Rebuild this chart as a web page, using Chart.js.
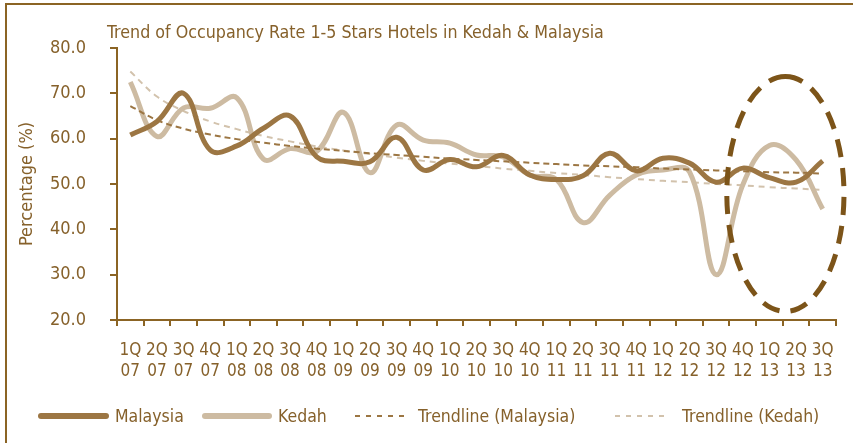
<!DOCTYPE html>
<html>
<head>
<meta charset="utf-8">
<title>Occupancy Rate Kedah & Malaysia</title>
<script src="https://cdn.jsdelivr.net/npm/chart.js@4.4.1/dist/chart.umd.min.js"></script>
<style>
    html, body { margin: 0; padding: 0; background: #fff; }
    #wrap {
        position: relative;
        width: 853px;
        height: 443px;
        overflow: hidden;
        font-family: 'DejaVu Sans Condensed', 'Liberation Sans Narrow', sans-serif;
        color: #86612B;
    }
    #frame {
        position: absolute;
        left: 5px;
        top: 3px;
        width: 900px;
        height: 500px;
        border-left: 2px solid #8B6424;
        border-top: 2px solid #8B6424;
    }
    #chart { position: absolute; left: 0; top: 0; }
    #title {
        position: absolute;
        left: 107px;
        top: 20px;
        font-size: 17.7px;
        line-height: 24px;
        white-space: nowrap;
    }
    #legend { position: absolute; left: 0; top: 404px; width: 853px; height: 24px; }
    .legend-item {
        position: absolute;
        top: 0;
        height: 24px;
        display: flex;
        align-items: center;
        font-size: 17.5px;
        white-space: nowrap;
    }
</style>
</head>
<body>
<div id="wrap">
    <div id="frame"></div>
    <canvas id="chart" width="853" height="443"></canvas>
    <div id="title">Trend of Occupancy Rate 1-5 Stars Hotels in Kedah &amp; Malaysia</div>
    <div id="legend"></div>
</div>
<script>
// Quarter labels, "quarter year" split into two lines on the axis
const categories = [
    '1Q 07', '2Q 07', '3Q 07', '4Q 07',
    '1Q 08', '2Q 08', '3Q 08', '4Q 08',
    '1Q 09', '2Q 09', '3Q 09', '4Q 09',
    '1Q 10', '2Q 10', '3Q 10', '4Q 10',
    '1Q 11', '2Q 11', '3Q 11', '4Q 11',
    '1Q 12', '2Q 12', '3Q 12', '4Q 12',
    '1Q 13', '2Q 13', '3Q 13'
];

// Occupancy rate (%)
const malaysia = [
    60.8, 63.8, 70.0, 57.5, 58.4, 62.3, 65.0, 56.0,
    55.0, 54.9, 60.3, 53.1, 55.4, 53.8, 56.3, 52.0,
    51.0, 51.8, 56.8, 52.9, 55.7, 54.6, 50.4, 53.5,
    51.4, 50.4, 55.1
];
const kedah = [
    72.5, 60.5, 66.8, 66.7, 69.0, 55.5, 57.8, 57.2,
    65.8, 52.5, 63.0, 59.7, 59.0, 56.4, 56.0, 52.0,
    51.0, 41.5, 47.5, 52.0, 53.1, 52.7, 30.0, 49.8,
    58.5, 55.3, 44.5
];

// Trendlines as drawn in the picture
const trendMalaysia = [
    67.2, 64.1, 62.2, 60.9, 59.9, 59.1, 58.4, 57.8,
    57.3, 56.8, 56.4, 56.0, 55.6, 55.3, 55.0, 54.7,
    54.4, 54.1, 53.9, 53.7, 53.4, 53.2, 53.0, 52.8,
    52.6, 52.5, 52.3
];
const trendKedah = [
    74.8, 69.3, 66.1, 63.8, 62.1, 60.6, 59.4, 58.3,
    57.4, 56.6, 55.8, 55.1, 54.5, 54.0, 53.4, 52.9,
    52.4, 52.0, 51.5, 51.1, 50.7, 50.4, 50.0, 49.7,
    49.3, 49.0, 48.7
];

const yTicks = [20, 30, 40, 50, 60, 70, 80];

const colors = {
    text: '#86612B',
    axis: '#8B6424',
    malaysia: '#9C7643',
    kedah: '#CDBBA2',
    trendKedah: '#D2C2AC',
    ring: '#7C5419'
};
const FONT = "'DejaVu Sans Condensed', 'Liberation Sans Narrow', sans-serif";

// Dashed ellipse highlighting the latest quarters (in axis units)
const highlight = { centerIndex: 24.6, centerValue: 47.8, halfCats: 2.2, halfValue: 25.9 };

const ellipsePlugin = {
    id: 'highlightEllipse',
    afterDatasetsDraw(chart) {
        const { ctx, scales: { x, y } } = chart;
        const cx = x.getPixelForValue(highlight.centerIndex);
        const cy = y.getPixelForValue(highlight.centerValue);
        const rx = x.getPixelForValue(highlight.centerIndex + highlight.halfCats) - cx;
        const ry = cy - y.getPixelForValue(highlight.centerValue + highlight.halfValue);
        ctx.save();
        ctx.strokeStyle = colors.ring;
        ctx.lineWidth = 5;
        ctx.setLineDash([18, 11]);
        ctx.beginPath();
        ctx.ellipse(cx, cy, rx, ry, 0, -Math.PI / 2, 1.5 * Math.PI);
        ctx.stroke();
        ctx.restore();
    }
};

const ctx = document.getElementById('chart').getContext('2d');

const chart = new Chart(ctx, {
    type: 'line',
    data: {
        labels: categories.map(c => c.split(' ')),
        datasets: [{
            label: 'Malaysia',
            data: malaysia,
            borderColor: colors.malaysia,
            borderWidth: 5,
            tension: 0.4,
            pointRadius: 0,
            order: 1
        }, {
            label: 'Kedah',
            data: kedah,
            borderColor: colors.kedah,
            borderWidth: 5,
            tension: 0.4,
            pointRadius: 0,
            order: 2
        }, {
            label: 'Trendline (Malaysia)',
            data: trendMalaysia,
            borderColor: colors.malaysia,
            borderWidth: 2,
            borderDash: [6, 4],
            tension: 0.4,
            pointRadius: 0,
            order: 0
        }, {
            label: 'Trendline (Kedah)',
            data: trendKedah,
            borderColor: colors.trendKedah,
            borderWidth: 2,
            borderDash: [6, 5],
            tension: 0.4,
            pointRadius: 0,
            order: 3
        }]
    },
    options: {
        responsive: false,
        animation: false,
        layout: {
            padding: { top: 48, left: 8, right: 17, bottom: 50 }
        },
        plugins: {
            legend: { display: false },
            tooltip: { enabled: false }
        },
        scales: {
            x: {
                offset: true,
                afterFit: scale => { scale.height = 73; },
                border: { color: colors.axis, width: 2 },
                grid: {
                    offset: true,
                    drawOnChartArea: false,
                    color: colors.axis,
                    lineWidth: 2,
                    tickLength: 6
                },
                ticks: {
                    color: colors.text,
                    padding: 14,
                    maxRotation: 0,
                    autoSkip: false,
                    font: { family: FONT, size: 17, lineHeight: 1.24 }
                }
            },
            y: {
                min: 20,
                max: 80,
                afterFit: scale => { scale.width = 109; },
                afterBuildTicks: scale => {
                    scale.ticks = yTicks.map(v => ({ value: v }));
                },
                border: { color: colors.axis, width: 2 },
                grid: {
                    drawOnChartArea: false,
                    color: colors.axis,
                    lineWidth: 2,
                    tickLength: 7
                },
                ticks: {
                    color: colors.text,
                    padding: 24,
                    font: { family: FONT, size: 18 },
                    callback: value => value.toFixed(1)
                },
                title: {
                    display: true,
                    text: 'Percentage (%)',
                    color: colors.text,
                    padding: { top: 9, bottom: 0 },
                    font: { family: FONT, size: 18, lineHeight: 1.2 }
                }
            }
        }
    },
    plugins: [ellipsePlugin]
});

// Legend built from the datasets, placed the way the original lays it out
const legendLayout = [
    { x: 38, sample: 71, gap: 6 },
    { x: 202, sample: 70, gap: 6 },
    { x: 355, sample: 52, gap: 11 },
    { x: 615, sample: 52, gap: 15 }
];
const legendEl = document.getElementById('legend');
chart.data.datasets.forEach((ds, i) => {
    const slot = legendLayout[i];
    const dashed = Array.isArray(ds.borderDash);
    const item = document.createElement('div');
    item.className = 'legend-item';
    item.style.left = slot.x + 'px';
    item.innerHTML =
        `<svg width="${slot.sample}" height="10" style="margin-right:${slot.gap}px">` +
        `<line x1="${dashed ? 0 : 3}" y1="5" x2="${dashed ? slot.sample : slot.sample - 3}" y2="5" ` +
        `stroke="${ds.borderColor}" stroke-width="${dashed ? 2 : 6}" stroke-linecap="${dashed ? 'butt' : 'round'}" ` +
        `stroke-dasharray="${dashed ? '5 6' : 'none'}"/></svg>` +
        `<span>${ds.label}</span>`;
    legendEl.appendChild(item);
});
</script>
</body>
</html>
